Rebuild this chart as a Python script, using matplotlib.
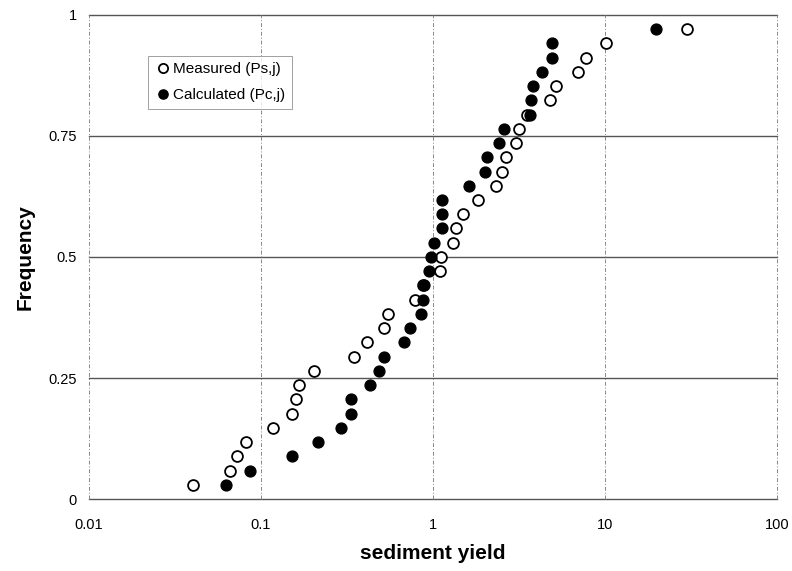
import matplotlib.pyplot as plt

plt.rcParams['font.family'] = ['Liberation Sans', 'DejaVu Sans']

# frequency = rank / (n + 1), n = 33
ranks = list(range(1, 34))
freq = [r / 34 for r in ranks]

measured = [0.040, 0.066, 0.0725, 0.082, 0.118, 0.151, 0.159, 0.166, 0.204,
            0.349, 0.413, 0.519, 0.545, 0.786, 0.88, 1.10, 1.12, 1.31, 1.37,
            1.49, 1.82, 2.31, 2.52, 2.66, 3.03, 3.15, 3.52, 4.81, 5.17, 6.97,
            7.76, 10.2, 29.8]
calculated = [0.0623, 0.0863, 0.151, 0.214, 0.293, 0.332, 0.335, 0.428, 0.485,
              0.519, 0.681, 0.735, 0.848, 0.879, 0.887, 0.952, 0.973, 1.02,
              1.13, 1.13, 1.13, 1.63, 2.00, 2.05, 2.43, 2.58, 3.65, 3.70, 3.80,
              4.28, 4.90, 4.90, 19.8]

x_ticks = [0.01, 0.1, 1, 10, 100]
x_tick_labels = ['0.01', '0.1', '1', '10', '100']
y_ticks = [0, 0.25, 0.5, 0.75, 1]
y_tick_labels = ['0', '0.25', '0.5', '0.75', '1']

fig = plt.figure(figsize=(7.92, 5.71), dpi=100)
ax = fig.add_axes([0.1124, 0.126, 0.8686, 0.848])

ax.plot(measured, freq, 'o', mfc='white', mec='black', mew=1.3, ms=7.8,
        label='Measured (Ps,j)')
ax.plot(calculated, freq, 'o', mfc='black', mec='black', ms=7.8,
        label='Calculated (Pc,j)')

ax.set_xscale('log')
ax.set_xlim(0.01, 100)
ax.set_ylim(0, 1)
ax.set_xticks(x_ticks)
ax.set_xticklabels(x_tick_labels)
ax.minorticks_off()
ax.set_yticks(y_ticks)
ax.set_yticklabels(y_tick_labels)
ax.tick_params(length=0, labelsize=10.5, pad=14)
ax.tick_params(axis='y', pad=9)

for s in ax.spines.values():
    s.set_visible(False)
for y in y_ticks:
    ax.axhline(y, color='#555555', lw=1.0, zorder=0, clip_on=False)
for x in x_ticks:
    ax.axvline(x, color='#888888', lw=0.7, ls=(0, (4, 2, 1, 2)), zorder=0,
               clip_on=False)

ax.set_xlabel('sediment yield', fontsize=15, fontweight='bold', labelpad=8)
ax.set_ylabel('Frequency', fontsize=15, fontweight='bold', labelpad=10)

leg = ax.legend(loc='upper left', bbox_to_anchor=(0.086, 0.916), fontsize=11,
                frameon=True, fancybox=False, handletextpad=0.1,
                handlelength=1.1, borderpad=0.45, labelspacing=0.75,
                markerscale=0.85, borderaxespad=0)
leg.get_frame().set_edgecolor('#888888')
leg.get_frame().set_linewidth(0.7)

fig.savefig('out.png', dpi=100)
